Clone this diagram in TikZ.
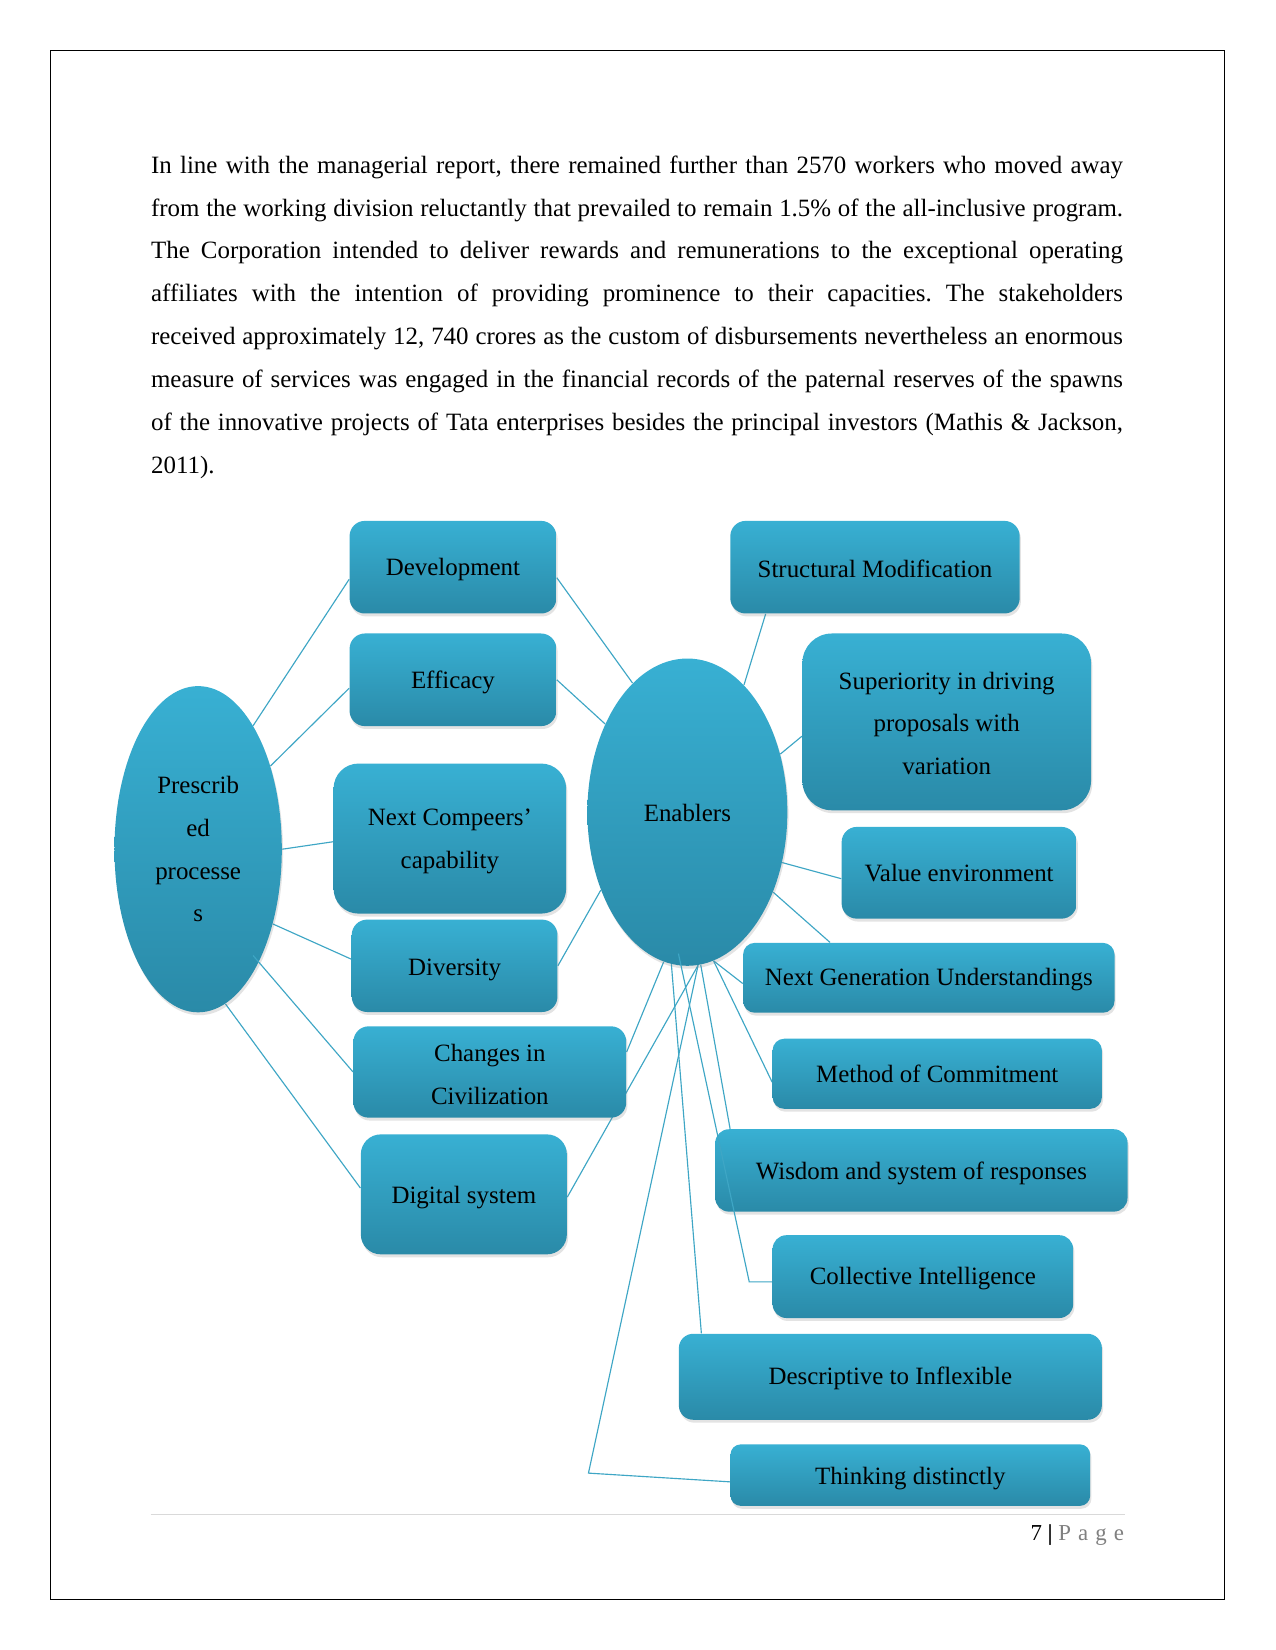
\documentclass[tikz,border=0pt]{standalone}
\usepackage{fontspec}
\setmainfont{Liberation Serif}
\usetikzlibrary{shapes.geometric,shadows,calc}
\definecolor{boxtop}{RGB}{56,176,211}
\definecolor{boxbot}{RGB}{42,138,168}
\definecolor{linec}{RGB}{62,166,197}
\definecolor{footgray}{RGB}{128,128,128}
\pgfdeclarelayer{bg}
\pgfsetlayers{bg,main}
\newcommand{\lowr}[2][1.3pt]{\raisebox{-#1}[\height][\depth]{#2}}
\frenchspacing
\tikzset{
  tbox/.style={rectangle, rounded corners=#1, inner sep=0pt, draw=none,
    top color=boxtop, bottom color=boxbot, align=center,
    font=\fontsize{12}{20.6}\selectfont,
    drop shadow={opacity=0.22, shadow xshift=0.6pt, shadow yshift=-1.4pt}},
  sz/.style 2 args={minimum width=#1*0.5068pt, minimum height=#2*0.5068pt},
  oval/.style={ellipse, inner sep=0pt, draw=none,
    top color=boxtop, bottom color=boxbot, align=center,
    font=\fontsize{12}{20.6}\selectfont,
    drop shadow={opacity=0.22, shadow xshift=0.6pt, shadow yshift=-1.4pt}},
  conn/.style={draw=linec, line width=0.55pt},
  ptext/.style={anchor=base west, inner sep=0pt, font=\fontsize{12}{14}\selectfont}
}
\begin{document}
\begin{tikzpicture}[x=0.5068pt,y=-0.5068pt]
% paragraph
\node[ptext] (p1) at (143.2,164.7) {\makebox[468.1pt][s]{In line with the managerial report, there remained further than 2570 workers who moved away}};
\node[ptext] (p2) at (143.2,205.4) {\makebox[468.1pt][s]{from the working division reluctantly that prevailed to remain 1.5\% of the all-inclusive program.}};
\node[ptext] (p3) at (143.2,246.1) {\makebox[468.1pt][s]{The Corporation intended to deliver rewards and remunerations to the exceptional operating}};
\node[ptext] (p4) at (143.2,286.8) {\makebox[468.1pt][s]{affiliates with the intention of providing prominence to their capacities. The stakeholders}};
\node[ptext] (p5) at (143.2,327.5) {\makebox[468.1pt][s]{received approximately 12, 740 crores as the custom of disbursements nevertheless an enormous}};
\node[ptext] (p6) at (143.2,368.2) {\makebox[468.1pt][s]{measure of services was engaged in the financial records of the paternal reserves of the spawns}};
\node[ptext] (p7) at (143.2,408.9) {\makebox[468.1pt][s]{of the innovative projects of Tata enterprises besides the principal investors (Mathis \& Jackson,}};
\node[ptext] (p8) at (143.2,449.6) {2011).};

% left boxes
\node[tbox=7.35pt, sz={196.5}{88}] (dev) at (430.45,539) {\lowr{Development}};
\node[tbox=7.35pt, sz={196.5}{88}] (eff) at (430.45,646) {\lowr{Efficacy}};
\node[tbox=12pt, sz={221}{142.6}] (ncomp) at (427.5,796.9) {\lowr{Next Compeers’}\\\lowr{capability}};
\node[tbox=7.4pt, sz={195.5}{87.8}] (div) at (432,917.8) {\lowr[1.8pt]{Diversity}};
\node[tbox=7.3pt, sz={259.2}{86.8}] (chg) at (465.5,1018.7) {\lowr{Changes in}\\\lowr{Civilization}};
\node[tbox=9.6pt, sz={195.8}{114}] (dig) at (440.8,1135) {\lowr[1.5pt]{Digital system}};
% right boxes
\node[tbox=7.4pt, sz={275}{88}] (str) at (831.5,539) {\lowr[0.6pt]{Structural Modification}};
\node[tbox=14.2pt, sz={274.3}{168}] (sup) at (899.65,686) {\lowr[0.7pt]{Superiority in driving}\\\lowr[0.7pt]{proposals with}\\\lowr[0.7pt]{variation}};
\node[tbox=7.35pt, sz={223.4}{87.2}] (val) at (911.5,829.4) {Value environment};
\node[tbox=5.6pt, sz={352.9}{66.4}] (ng) at (882.65,929.2) {\lowr[1pt]{Next Generation Understandings}};
\node[tbox=5.6pt, sz={312.9}{66.6}] (met) at (890.65,1020.4) {Method of Commitment};
\node[tbox=6.6pt, sz={391.8}{78.3}] (wis) at (875.6,1112.25) {\lowr[1.5pt]{Wisdom and system of responses}};
\node[tbox=6.65pt, sz={285.6}{78.7}] (col) at (877,1213.15) {\lowr[1pt]{Collective Intelligence}};
\node[tbox=6.9pt, sz={402}{81.7}] (des) at (846.1,1308.35) {\lowr[1pt]{Descriptive to Inflexible}};
\node[tbox=4.9pt, sz={341.8}{58.4}] (thi) at (865.1,1401.8) {\lowr[1.5pt]{Thinking distinctly}};
% ellipses
\node[oval, sz={159}{310}] (pres) at (188.3,807) {Prescrib\\ed\\processe\\s};
\node[oval, sz={190}{292}] (enab) at (653.2,771.8) {\lowr[0.5pt]{Enablers}};

\begin{pgfonlayer}{bg}
\fill[white] (0,0) rectangle (1212,1568);
\draw[line width=0.6pt] (48.2,48.2) rectangle (1163.8,1520);
% Prescribed connectors
\draw[conn] (pres.66) -- ($(dev.west)+(0,11.5)$);
\draw[conn] (pres.49) -- ($(eff.west)+(0,8)$);
\draw[conn] (pres.east) -- ($(ncomp.west)+(0,3)$);
\draw[conn] (pres.315) -- ($(div.west)+(0,-6.3)$);
\draw[conn] (pres.280) -- ($(dig.west)+(0,-6)$);
% left boxes to Enablers
\draw[conn] ($(dev.east)+(0,10)$) -- (enab.113);
\draw[conn] (eff.east) -- (enab.133);
\draw[conn] (div.east) -- (enab.222);
\draw[conn] ($(chg.east)+(0,-19)$) -- (enab.261);
\draw[conn] ($(dig.east)+(0,2.6)$) -- (enab.274);
% Enablers to right boxes
\draw[conn] (enab.66) -- ($(str.south west)+(34,0)$);
\draw[conn] (enab.32) -- ($(sup.west)+(0,13.6)$);
\draw[conn] (enab.332) -- ($(val.west)+(0,5.6)$);
\draw[conn] (enab.317) -- ($(ng.north west)+(83,0)$);
\draw[conn] (enab.280) -- ($(ng.west)+(0,5.4)$);
\draw[conn] (enab.280) -- ($(met.west)+(0,8)$);
\draw[conn] (enab.275) -- ($(wis.north west)+(14.5,0)$);
\draw[conn] (enab.264) -- ($(des.north west)+(21.8,0)$);
\draw[conn] (enab.274) -- ($(thi.west)+(-134.6,-1.9)$) -- ($(thi.west)+(0,6.4)$);
\end{pgfonlayer}

% connectors drawn over the shapes
\draw[conn] ($(pres.center)+(52.2,101)$) -- (chg.west);
\draw[conn] ($(enab.center)+(-8.5,134.4)$) -- ($(col.west)+(-21.8,5)$) -- ($(col.west)+(0,5)$);

% footer
\draw[gray!30, line width=0.5pt] (143.2,1439.2) -- (1069.4,1439.2);
\node[anchor=base east, inner sep=0pt, font=\fontsize{11}{13}\selectfont] (pg) at (1068.5,1464) {7 \textbf{|} \textcolor{footgray}{P\hspace{3.4pt}a\hspace{3.4pt}g\hspace{3.4pt}e}};
\end{tikzpicture}
\end{document}
